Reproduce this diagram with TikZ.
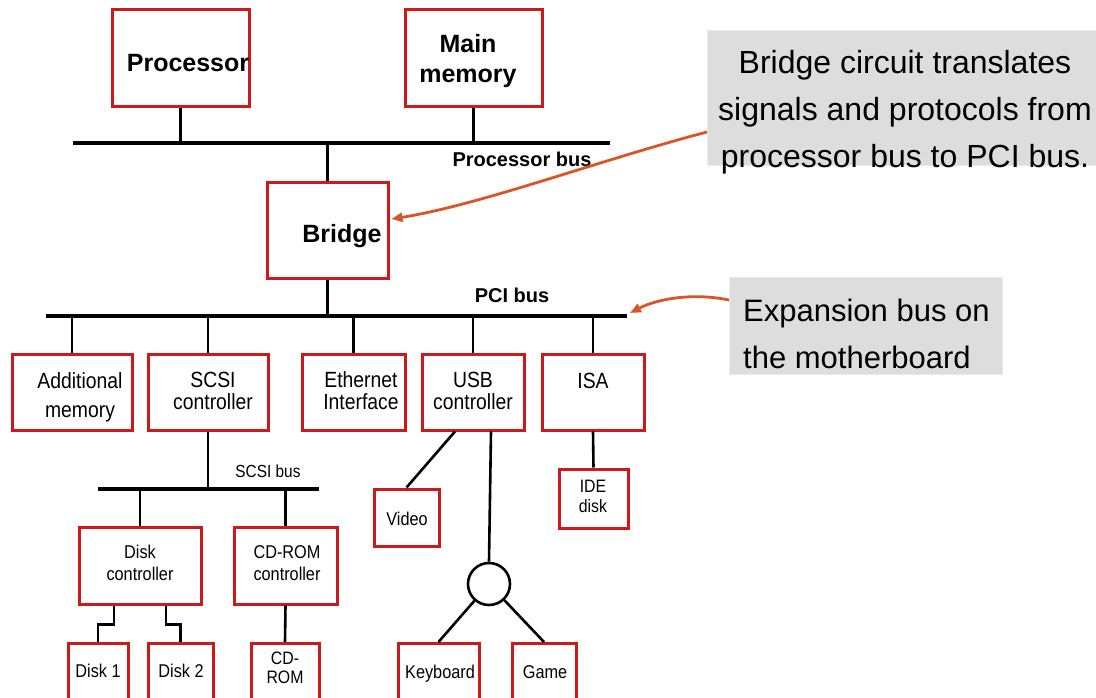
\documentclass[tikz,border=0pt]{standalone}
\usepackage{fontspec}
\setmainfont{Liberation Sans}
\newfontfamily\narrowsans[FakeStretch=0.88]{Liberation Sans}
\usetikzlibrary{arrows.meta,calc}
\definecolor{boxred}{RGB}{205,25,25}
\definecolor{callorange}{RGB}{217,84,38}
\definecolor{callgray}{RGB}{221,221,221}
\definecolor{callborder}{RGB}{234,234,234}
\tikzset{
 box/.style={draw=boxred, line width=3pt, fill=white, inner sep=0pt},
 bus/.style={line width=3.4pt, draw=black},
 wire/.style={line width=2.6pt, draw=black},
 bigbold/.style={font=\fontsize{25}{30}\selectfont\bfseries, align=center, anchor=base, inner sep=0pt},
 buslbl/.style={font=\fontsize{20}{24}\selectfont\bfseries, anchor=base, inner sep=0pt},
 midlbl/.style={font=\narrowsans\fontsize{22}{22}\selectfont, align=center, anchor=base, inner sep=0pt},
 smalllbl/.style={font=\narrowsans\fontsize{18.5}{22}\selectfont, align=center, anchor=base, inner sep=0pt},
 callbox/.style={fill=callgray, draw=callborder, line width=1pt, inner sep=0pt},
 calltxt/.style={font=\fontsize{32}{47}\selectfont, anchor=base, inner sep=0pt},
 calltxtb/.style={font=\fontsize{31}{47}\selectfont, anchor=base west, inner sep=0pt},
 callarrow/.style={draw=callorange, line width=2.8pt, -{Triangle[length=11pt,width=9pt]}},
}
\begin{document}
\begin{tikzpicture}[x=1pt,y=-1pt]
\useasboundingbox (0,0) rectangle (1096,698);
\clip (0,0) rectangle (1096,698);

% ---- callout boxes
\node[callbox, minimum width=395pt, minimum height=135pt, anchor=north west] (call1) at (707,30) {};
\node[callbox, minimum width=273pt, minimum height=97pt, anchor=north west] (call2) at (729,277) {};

% ---- boxes
\node[box, minimum width=137pt, minimum height=97pt] (proc) at (180.5,58.5) {};
\node[box, minimum width=137pt, minimum height=97pt] (mem) at (473.5,58.5) {};
\node[box, minimum width=121pt, minimum height=95pt] (bridge) at (327.5,230.5) {};
\node[box, minimum width=120pt, minimum height=76pt] (addmem) at (72,392) {};
\node[box, minimum width=120pt, minimum height=76pt] (scsi) at (208,392) {};
\node[box, minimum width=103pt, minimum height=76pt] (eth) at (353.5,392) {};
\node[box, minimum width=102pt, minimum height=76pt] (usb) at (473,392) {};
\node[box, minimum width=102pt, minimum height=76pt] (isa) at (593,392) {};
\node[box, minimum width=122pt, minimum height=77pt] (diskc) at (140,565.5) {};
\node[box, minimum width=103pt, minimum height=77pt] (cdc) at (285.5,565.5) {};
\node[box, minimum width=65pt, minimum height=57pt] (video) at (406.5,517.5) {};
\node[box, minimum width=69pt, minimum height=59pt] (ide) at (593.5,498.5) {};
\node[box, minimum width=60pt, minimum height=80pt, anchor=north] (disk1) at (98,642) {};
\node[box, minimum width=65pt, minimum height=80pt, anchor=north] (disk2) at (180.5,642) {};
\node[box, minimum width=68pt, minimum height=80pt, anchor=north] (cdrom) at (285,642) {};
\node[box, minimum width=81pt, minimum height=80pt, anchor=north] (kbd) at (438.5,642) {};
\node[box, minimum width=64pt, minimum height=80pt, anchor=north] (game) at (544,642) {};
\node[draw=black, circle, line width=2.6pt, minimum size=42pt, inner sep=0pt, fill=white] (hub) at (489,584) {};

% ---- buses
\coordinate (pb-l) at (73,143);
\coordinate (pb-r) at (610,143);
\coordinate (pci-l) at (46,316);
\coordinate (pci-r) at (627,316);
\coordinate (sb-l) at (98,489);
\coordinate (sb-r) at (319,489);
\draw[bus] (pb-l) -- (pb-r);
\draw[bus] (pci-l) -- (pci-r);
\draw[bus] (sb-l) -- (sb-r);

% ---- wires
\draw[wire] (proc.south) -- (proc.south |- pb-l);
\draw[wire] (mem.south) -- (mem.south |- pb-l);
\draw[wire] (bridge.north) -- (bridge.north |- pb-l);
\draw[wire] (bridge.south) -- (bridge.south |- pci-l);
\draw[wire] (addmem.north) -- (addmem.north |- pci-l);
\draw[wire] (scsi.north) -- (scsi.north |- pci-l);
\draw[wire] (eth.north) -- (eth.north |- pci-l);
\draw[wire] (usb.north) -- (usb.north |- pci-l);
\draw[wire] (isa.north) -- (isa.north |- pci-l);
\draw[wire] (scsi.south) -- (scsi.south |- sb-l);
\draw[wire] (diskc.north) -- (diskc.north |- sb-l);
\draw[wire] (cdc.north) -- (cdc.north |- sb-l);
\draw[wire] ([xshift=-26pt]diskc.south) -- ++(0,19) -| (disk1.north);
\draw[wire] ([xshift=26pt]diskc.south) -- ++(0,19) -| (disk2.north);
\draw[wire] (cdc.south) -- (cdrom.north);
\draw[wire] ([xshift=-18pt]usb.south) -- (video.north);
\draw[wire] ([xshift=18pt]usb.south) -- (hub.north);
\draw[wire] (hub) -- (kbd.north);
\draw[wire] (hub) -- (game.north);
\draw[wire] (isa.south) -- (ide.north);

% ---- labels (multi-line nodes: base = baseline of the last line)
\node[bigbold] (t-proc) at (188,72) {Processor};
\node[bigbold] (t-mem) at (468,83) {Main\\memory};
\node[bigbold] (t-bridge) at (342,243) {Bridge};
\node[buslbl] (t-pb) at (522,167) {Processor bus};
\node[buslbl] (t-pci) at (512,302) {PCI bus};
\node[midlbl, font=\narrowsans\fontsize{22}{29}\selectfont] (t-addmem) at (80,417) {Additional\\memory};
\node[midlbl] (t-scsi) at (213,409) {SCSI\\controller};
\node[midlbl] (t-eth) at (361,409) {Ethernet\\Interface};
\node[midlbl] (t-usb) at (473,409) {USB\\controller};
\node[midlbl] (t-isa) at (593,388) {ISA};
\node[font=\narrowsans\fontsize{17.5}{20}\selectfont, anchor=base, inner sep=0pt] (t-sb) at (268,477) {SCSI bus};
\node[smalllbl] (t-diskc) at (140,580) {Disk\\controller};
\node[smalllbl] (t-cdc) at (287,580) {CD-ROM\\controller};
\node[smalllbl] (t-d1) at (98,677) {Disk 1};
\node[smalllbl] (t-d2) at (181,677) {Disk 2};
\node[smalllbl, font=\narrowsans\fontsize{18}{19}\selectfont] (t-cd) at (285,683) {CD-\\ROM};
\node[smalllbl] (t-video) at (407,525) {Video};
\node[smalllbl, font=\narrowsans\fontsize{18}{19.5}\selectfont] (t-ide) at (593,512) {IDE\\disk};
\node[smalllbl] (t-kbd) at (440,678) {Keyboard};
\node[smalllbl] (t-game) at (545,678) {Game};

% ---- callout texts
\node[calltxt] (c1a) at (905,74) {Bridge circuit translates};
\node[calltxt] (c1b) at (905,121) {signals and protocols from};
\node[calltxt] (c1c) at (905,168) {processor bus to PCI bus.};
\node[calltxtb] (c2a) at (743,321) {Expansion bus on};
\node[calltxtb] (c2b) at (743,368) {the motherboard};

% ---- callout arrows
\draw[callarrow] ([yshift=-34pt]call1.west) .. controls (600,160) and (480,205) .. ([xshift=2pt,yshift=11.5pt]bridge.east);
\draw[callarrow] ([yshift=26pt]call2.west) .. controls (690,292) and (655,300) .. ([xshift=3pt,yshift=3pt]pci-r);
\end{tikzpicture}
\end{document}
